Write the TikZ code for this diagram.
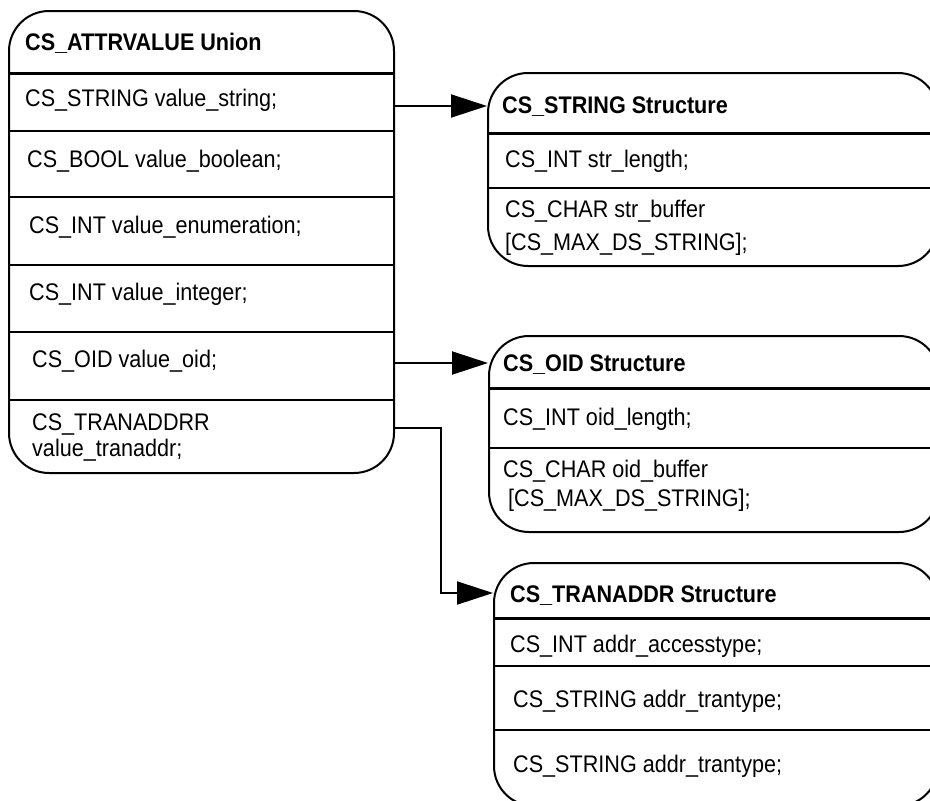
\documentclass[tikz,border=0pt]{standalone}
\usepackage{fontspec}
\setmainfont{Liberation Sans}[FakeStretch=0.9]
\usetikzlibrary{positioning, arrows.meta}

\tikzset{
    box/.style={draw, line width=2pt, rounded corners=40pt, anchor=north west, inner sep=0pt},
    field/.style={anchor=base west, inner sep=0pt, font=\fontsize{24}{28}\selectfont},
    title/.style={field, font=\fontsize{24}{28}\selectfont\bfseries},
    headsep/.style={line width=3pt},
    rowsep/.style={line width=2pt},
    link/.style={line width=2pt, -{Triangle[length=36pt, width=23pt]}}
}

\begin{document}
\begin{tikzpicture}[x=1pt, y=-1pt]
    \useasboundingbox (0,0) rectangle (930,801);
    \clip (0,0) rectangle (930,801);
    % Union box
    \node [box, minimum width=385pt, minimum height=462pt] (union) at (8,10) {};
    \draw [headsep] (union.west |- 0,73) -- (union.east |- 0,73);
    \foreach \y in {131, 197, 265, 332, 400}
        \draw [rowsep] (union.west |- 0,\y) -- (union.east |- 0,\y);
    \node [title] (uhead) at (25,50) {CS\_ATTRVALUE Union};
    \node [field] (ustring) at (25,106) {CS\_STRING value\_string;};
    \node [field] (ubool) at (27,167) {CS\_BOOL value\_boolean;};
    \node [field] (uenum) at (29,233) {CS\_INT value\_enumeration;};
    \node [field] (uint) at (29,300) {CS\_INT value\_integer;};
    \node [field] (uoid) at (32,367) {CS\_OID value\_oid;};
    \node [field] (uaddra) at (32,430) {CS\_TRANADDRR};
    \node [field] (uaddrb) at (32,456) {value\_tranaddr;};
    % String structure
    \node [box, minimum width=450pt, minimum height=193pt] (strbox) at (487,72) {};
    \draw [headsep] (strbox.west |- 0,133) -- (strbox.east |- 0,133);
    \draw [rowsep] (strbox.west |- 0,188) -- (strbox.east |- 0,188);
    \node [title] (shead) at (502,113) {CS\_STRING Structure};
    \node [field] (slen) at (505,167) {CS\_INT str\_length;};
    \node [field] (sbufa) at (505,217) {CS\_CHAR str\_buffer};
    \node [field] (sbufb) at (505,250) {[CS\_MAX\_DS\_STRING];};
    % OID structure
    \node [box, minimum width=450pt, minimum height=196pt] (oidbox) at (488,335) {};
    \draw [headsep] (oidbox.west |- 0,388) -- (oidbox.east |- 0,388);
    \draw [rowsep] (oidbox.west |- 0,448) -- (oidbox.east |- 0,448);
    \node [title] (ohead) at (503,371) {CS\_OID Structure};
    \node [field] (olen) at (503,425) {CS\_INT oid\_length;};
    \node [field] (obufa) at (503,477) {CS\_CHAR oid\_buffer};
    \node [field] (obufb) at (508,506) {[CS\_MAX\_DS\_STRING];};
    % Transport address structure
    \node [box, minimum width=444pt, minimum height=243pt] (addrbox) at (493,562) {};
    \draw [headsep] (addrbox.west |- 0,618) -- (addrbox.east |- 0,618);
    \foreach \y in {666, 730}
        \draw [rowsep] (addrbox.west |- 0,\y) -- (addrbox.east |- 0,\y);
    \node [title] (ahead) at (510,602) {CS\_TRANADDR Structure};
    \node [field] (aacc) at (510,652) {CS\_INT addr\_accesstype;};
    \node [field] (atrana) at (513,707) {CS\_STRING addr\_trantype;};
    \node [field] (atranb) at (513,772) {CS\_STRING addr\_trantype;};
    % Links
    \draw [link] (union.east |- 0,106) -- (strbox.west |- 0,106);
    \draw [link] (union.east |- 0,363) -- (oidbox.west |- 0,363);
    \coordinate (elbow) at (441,428);
    \draw [link] (union.east |- elbow) -- (elbow) |- (addrbox.west |- 0,593);
\end{tikzpicture}
\end{document}
